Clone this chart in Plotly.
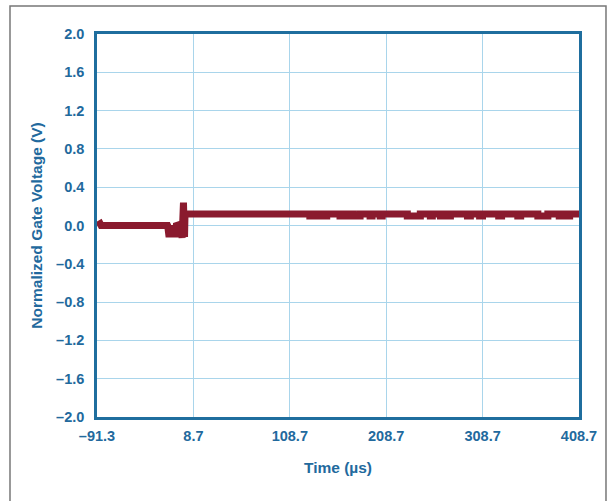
import plotly.graph_objects as go

# ---- data ----
pre_t = [-91.3, -88, -87, -20, -19, -18, -16.5, -15.5, -13, -12, -10, -9, -6, -4, -3, -2.2, -1.6, -1.0, -0.5, 0.0]
pre_v = [0.0, 0.02, 0.0, 0.0, 0.02, 0.0, -0.12, 0.0, -0.10, 0.0, -0.12, 0.0, 0.01, -0.02, -0.13, 0.0, 0.24, 0.0, -0.12, 0.12]

high_level = 0.12
notch_level = 0.10
notch_start = [129.5, 137.9, 145.0, 160.8, 169.1, 174.3, 192.0, 202.5, 230.6, 254.5, 265.0, 273.3,
               293.0, 305.6, 325.4, 345.2, 366.0, 388.2, 397.0]
notch_end = [131.5, 139.9, 147.0, 162.8, 171.1, 181.6, 194.0, 204.5, 244.1, 256.5, 267.0, 275.3,
             296.0, 308.6, 328.4, 348.2, 376.4, 390.2, 399.0]
t_end = 408.7

x_ticks = [-91.3, 8.7, 108.7, 208.7, 308.7, 408.7]
x_labels = ["–91.3", "8.7", "108.7", "208.7", "308.7", "408.7"]
y_ticks = [-2.0, -1.6, -1.2, -0.8, -0.4, 0.0, 0.4, 0.8, 1.2, 1.6, 2.0]
y_labels = ["–2.0", "–1.6", "–1.2", "–0.8", "–0.4", "0.0", "0.4", "0.8", "1.2", "1.6", "2.0"]

# build the trace
t = list(pre_t)
v = list(pre_v)
for s, e in zip(notch_start, notch_end):
    t += [s, s, e, e]
    v += [high_level, notch_level, notch_level, high_level]
t.append(t_end)
v.append(high_level)

RED = "#8A1A2E"
BLUE = "#1F6E9E"
GRID = "#A9D5EB"
TXT = "#22699D"

fig = go.Figure()
fig.add_trace(go.Scatter(x=t, y=v, mode="lines",
                         line=dict(color=RED, width=7), showlegend=False,
                         hoverinfo="skip"))

tick_font = dict(family="Liberation Sans", size=14.5, color=TXT, weight="bold")
title_font = dict(family="Liberation Sans", size=15.5, color=TXT, weight="bold")

fig.update_layout(
    width=613, height=501,
    margin=dict(l=97, r=34, t=34, b=84),
    paper_bgcolor="white", plot_bgcolor="white",
    xaxis=dict(range=[-91.3, 408.7], tickvals=x_ticks, ticktext=x_labels,
               showgrid=True, gridcolor=GRID, gridwidth=1.2,
               showline=True, linecolor=BLUE, linewidth=2.5, mirror=True,
               zeroline=False, ticks="", tickfont=tick_font, ticklabelstandoff=4,
               title=dict(text="Time (µs)", font=title_font, standoff=19)),
    yaxis=dict(range=[-2.0, 2.0], tickvals=y_ticks, ticktext=y_labels,
               showgrid=True, gridcolor=GRID, gridwidth=1.2,
               showline=True, linecolor=BLUE, linewidth=2.5, mirror=True,
               zeroline=False, ticks="", tickfont=tick_font, ticklabelstandoff=7,
               title=dict(text="Normalized Gate Voltage (V)", font=title_font, standoff=10)),
    shapes=[dict(type="rect", xref="paper", yref="paper",
                 x0=-0.1805, x1=1.0560, y0=-0.24, y1=1.0731,
                 line=dict(color="#777777", width=1.5), layer="below")],
)

fig.write_html("out.html")
